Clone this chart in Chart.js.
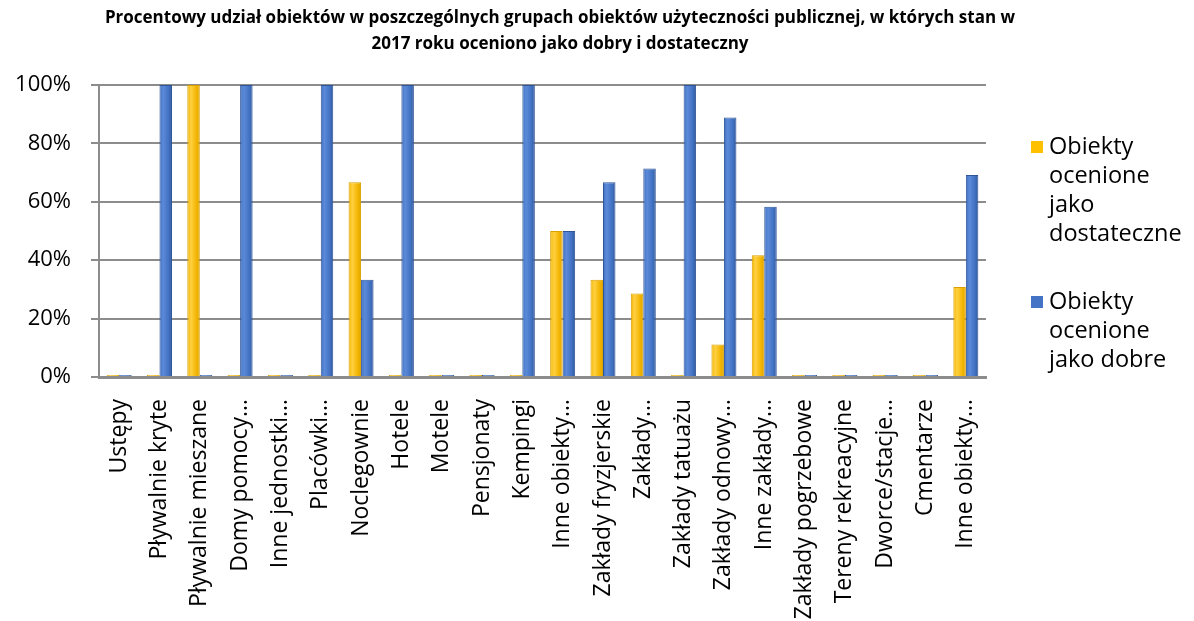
<!DOCTYPE html>
<html>
<head>
<meta charset="utf-8">
<script src="https://cdn.jsdelivr.net/npm/chart.js@4/dist/chart.umd.min.js"></script>
<style>
  html, body { margin: 0; padding: 0; background: #fff; }
  #wrap { width: 1194px; height: 621px; }
</style>
</head>
<body>
<div id="wrap"><canvas id="chart" width="1194" height="621"></canvas></div>
<script>
// data
const categories = [
  'Ustępy', 'Pływalnie kryte', 'Pływalnie mieszane', 'Domy pomocy…', 'Inne jednostki…',
  'Placówki…', 'Noclegownie', 'Hotele', 'Motele', 'Pensjonaty', 'Kempingi',
  'Inne obiekty…', 'Zakłady fryzjerskie', 'Zakłady…', 'Zakłady tatuażu', 'Zakłady odnowy…',
  'Inne zakłady…', 'Zakłady pogrzebowe', 'Tereny rekreacyjne', 'Dworce/stacje…', 'Cmentarze',
  'Inne obiekty…'
];
const dostateczne = [0, 0, 100, 0, 0, 0, 66.7, 0, 0, 0, 0, 50, 33.3, 28.6, 0, 11.1, 41.7, 0, 0, 0, 0, 30.8];
const dobre       = [0, 100, 0, 100, 0, 100, 33.3, 100, 0, 0, 100, 50, 66.7, 71.4, 100, 88.9, 58.3, 0, 0, 0, 0, 69.2];
const yTicks = [0, 20, 40, 60, 80, 100];
const seriesNames = ['Obiekty ocenione jako dostateczne', 'Obiekty ocenione jako dobre'];
const titleLines = [
  'Procentowy udział obiektów w poszczególnych grupach obiektów użyteczności publicznej, w których stan w',
  '2017 roku oceniono jako dobry i dostateczny'
];

const FONT = '"Open Sans", "DejaVu Sans", sans-serif';
const CAT_PCT = 0.62;

// cylinder-ish shading across each bar
function shade(dark, light, edge) {
  return function (c) {
    const chart = c.chart;
    const x = chart.scales.x;
    if (!x || !chart.chartArea) return light;
    const cw = chart.chartArea.width / categories.length;
    const bw = cw * CAT_PCT / 2;
    const centre = x.getPixelForValue(c.dataIndex);
    const left = centre - bw + c.datasetIndex * bw;
    const g = chart.ctx.createLinearGradient(left, 0, left + bw, 0);
    g.addColorStop(0, dark);
    g.addColorStop(0.3, light);
    g.addColorStop(0.75, dark);
    g.addColorStop(1, edge);
    return g;
  };
}

// title + wrapped legend, drawn like the office chart
const decor = {
  id: 'decor',
  afterDraw(chart) {
    const ctx = chart.ctx;
    ctx.save();
    ctx.fillStyle = '#000';
    ctx.textAlign = 'center';
    ctx.textBaseline = 'middle';
    ctx.font = 'bold 17px ' + FONT;
    ctx.fillText(titleLines[0], 560, 18);
    ctx.fillText(titleLines[1], 560, 44);

    const legendRows = [
      ['Obiekty', 'ocenione', 'jako', 'dostateczne'],
      ['Obiekty', 'ocenione', 'jako dobre']
    ];
    const colors = ['#FFC000', '#4472C4'];
    const tops = [147, 302];
    ctx.font = '23.5px ' + FONT;
    ctx.textAlign = 'left';
    legendRows.forEach((lines, i) => {
      ctx.fillStyle = colors[i];
      ctx.fillRect(1031, tops[i] - 6, 12, 12);
      ctx.fillStyle = '#000';
      lines.forEach((t, j) => ctx.fillText(t, 1049, tops[i] + j * 29));
    });
    ctx.restore();
  }
};

new Chart(document.getElementById('chart'), {
  type: 'bar',
  data: {
    labels: categories,
    datasets: [{
      label: seriesNames[0],
      data: dostateczne,
      backgroundColor: shade('#F2B400', '#FFD040', '#E0A600'),
      borderColor: '#D9A000',
      borderWidth: 1,
      minBarLength: 2
    }, {
      label: seriesNames[1],
      data: dobre,
      backgroundColor: shade('#4070C0', '#5A8AD8', '#33589C'),
      borderColor: '#2F5597',
      borderWidth: 1,
      minBarLength: 2
    }]
  },
  options: {
    responsive: false,
    animation: false,
    layout: { padding: { top: 85, right: 208, bottom: 0, left: 0 } },
    categoryPercentage: CAT_PCT,
    barPercentage: 1.0,
    plugins: {
      legend: { display: false },
      title: { display: false },
      tooltip: { enabled: false }
    },
    scales: {
      x: {
        grid: { display: false },
        border: { display: true, color: '#8c8c8c', width: 3 },
        ticks: {
          color: '#000',
          font: { family: FONT, size: 23 },
          minRotation: 90,
          maxRotation: 90,
          autoSkip: false,
          padding: 14
        },
        afterFit(scale) { scale.height = 244; }
      },
      y: {
        min: 0,
        max: 100,
        afterBuildTicks(scale) { scale.ticks = yTicks.map(v => ({ value: v })); },
        grid: { color: '#8c8c8c', lineWidth: 2, drawTicks: true, tickLength: 8 },
        border: { display: true, color: '#8c8c8c', width: 2 },
        ticks: {
          color: '#000',
          font: { family: FONT, size: 22 },
          padding: 20,
          callback: v => v + '%'
        },
        afterFit(scale) { scale.width = 99; }
      }
    }
  },
  plugins: [decor]
});
</script>
</body>
</html>
